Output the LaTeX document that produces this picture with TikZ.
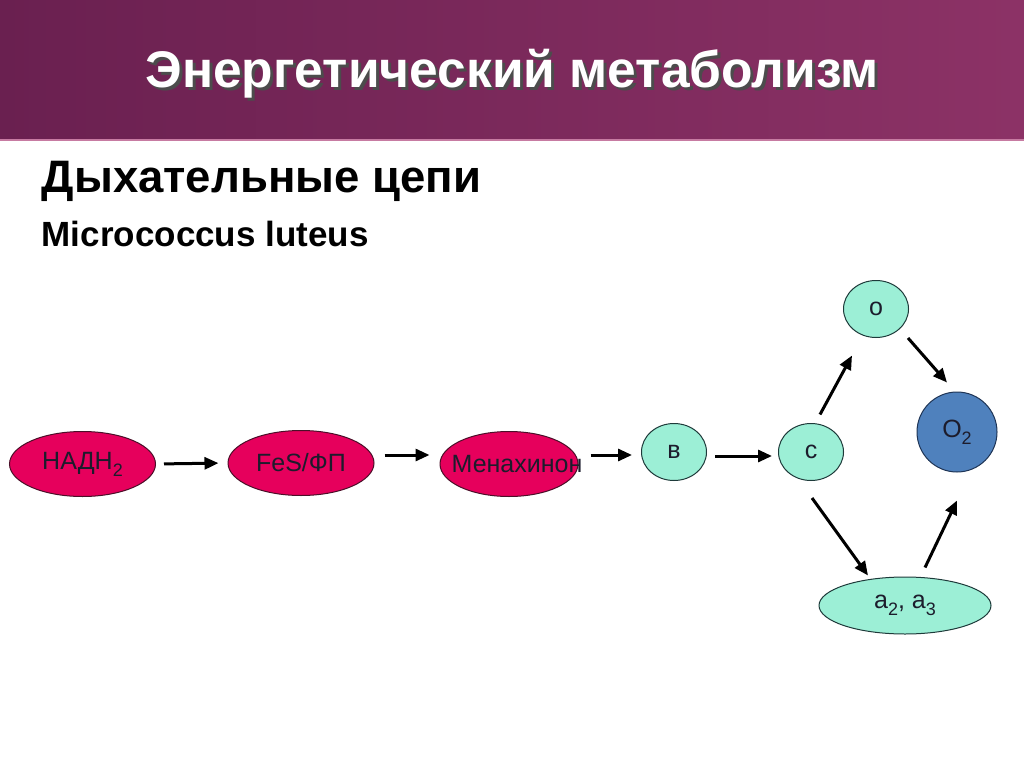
\documentclass[tikz,border=0pt]{standalone}
\usepackage{fontspec}
\setmainfont{Liberation Sans}
\usetikzlibrary{shapes.geometric,arrows.meta}

\definecolor{bandleft}{HTML}{6A2050}
\definecolor{bandright}{HTML}{8C3266}
\definecolor{bandedge}{HTML}{C77BA2}
\definecolor{hotpink}{HTML}{E6005C}
\definecolor{pinkline}{HTML}{4A0F28}
\definecolor{mint}{HTML}{9CEFD6}
\definecolor{mintline}{HTML}{1E3A3A}
\definecolor{oxblue}{HTML}{4F81BD}
\definecolor{oxline}{HTML}{1F3556}
\definecolor{labeltext}{HTML}{1C1C2C}

\newcommand{\shadowed}[1]{%
  \makebox[0pt][l]{\kern3pt\raisebox{-3pt}{\color{black!70}#1}}#1}
\newcommand{\lowsub}[1]{\raisebox{-7pt}{\fontsize{18}{20}\selectfont#1}}

\tikzset{
  every picture/.style={line width=1pt},
  carrier/.style={ellipse, draw, inner sep=0pt,
    font=\fontsize{25}{29}\selectfont, text=labeltext},
  redcarrier/.style={carrier, fill=hotpink, draw=pinkline,
    minimum width=146pt, minimum height=65pt},
  greencarrier/.style={carrier, fill=mint, draw=mintline,
    minimum width=65pt, minimum height=57pt},
  flow/.style={line width=3pt, -{Triangle[length=14pt,width=12pt]}},
}

\begin{document}
\begin{tikzpicture}[x=1pt,y=-1pt]
  \useasboundingbox (0,0) rectangle (1024,767);

  % --- bandeau du titre ---
  \begin{scope}
    \shade[left color=bandleft, right color=bandright] (0,0) rectangle (1024,140);
    \draw[bandedge, line width=2pt] (0,140) -- (1024,140);
    \node[text=white, font=\fontsize{51.5}{60}\selectfont\bfseries]
      (title) at (512,75) {\shadowed{Энергетический метаболизм}};
  \end{scope}

  \node[anchor=base west, font=\fontsize{45.5}{50}\selectfont\bfseries]
    (chains) at (38,193) {Дыхательные цепи};
  \node[anchor=base west, font=\fontsize{35}{40}\selectfont\bfseries]
    (species) at (38,247) {Micrococcus luteus};

  % --- la chaîne ---
  \node[redcarrier] (nad) at (82.5,464) {НАДН\lowsub{2}};
  \node[redcarrier] (fes) at (301,463) {FeS/ФП};
  \node[redcarrier, minimum width=138pt] (men) at (509,464)
    {\makebox[0pt]{\kern16pt Менахинон}};
  \node[greencarrier] (b) at (674,452) {в};
  \node[greencarrier] (c) at (811,452) {с};
  \node[greencarrier] (o) at (876,309) {о};
  \node[carrier, circle, fill=oxblue, draw=oxline, minimum size=80pt]
    (otwo) at (957,432) {O\lowsub{2}};
  \node[greencarrier, minimum width=172pt] (aa) at (905,605.5)
    {a\lowsub{2}, a\lowsub{3}};

  \draw[flow, shorten <=8pt, shorten >=9pt] (nad.east) -- (fes.west);
  \draw[flow, shorten <=10pt, shorten >=10pt]
    ([yshift=8pt]fes.east) -- ([yshift=8pt]fes.east -| men.west);
  \draw[flow, shorten <=12pt, shorten >=9pt]
    ([yshift=9pt]men.east) -- ([yshift=9pt]men.east -| b.west);
  \draw[flow, shorten <=8pt, shorten >=6pt]
    ([yshift=-4pt]b.east) -- ([yshift=-4pt]c.west);

  \draw[flow] ([xshift=9pt,yshift=8.5pt]c.north) -- ([xshift=-24pt,yshift=-17.5pt]o.south);
  \draw[flow] ([xshift=32pt]o.south) -- ([xshift=-10pt,yshift=9pt]otwo.north);
  \draw[flow] ([xshift=1pt,yshift=-17pt]c.south) -- ([xshift=-37pt,yshift=1pt]aa.north);
  \draw[flow] ([xshift=20pt,yshift=9pt]aa.north) -- ([yshift=-28pt]otwo.south);
\end{tikzpicture}
\end{document}
